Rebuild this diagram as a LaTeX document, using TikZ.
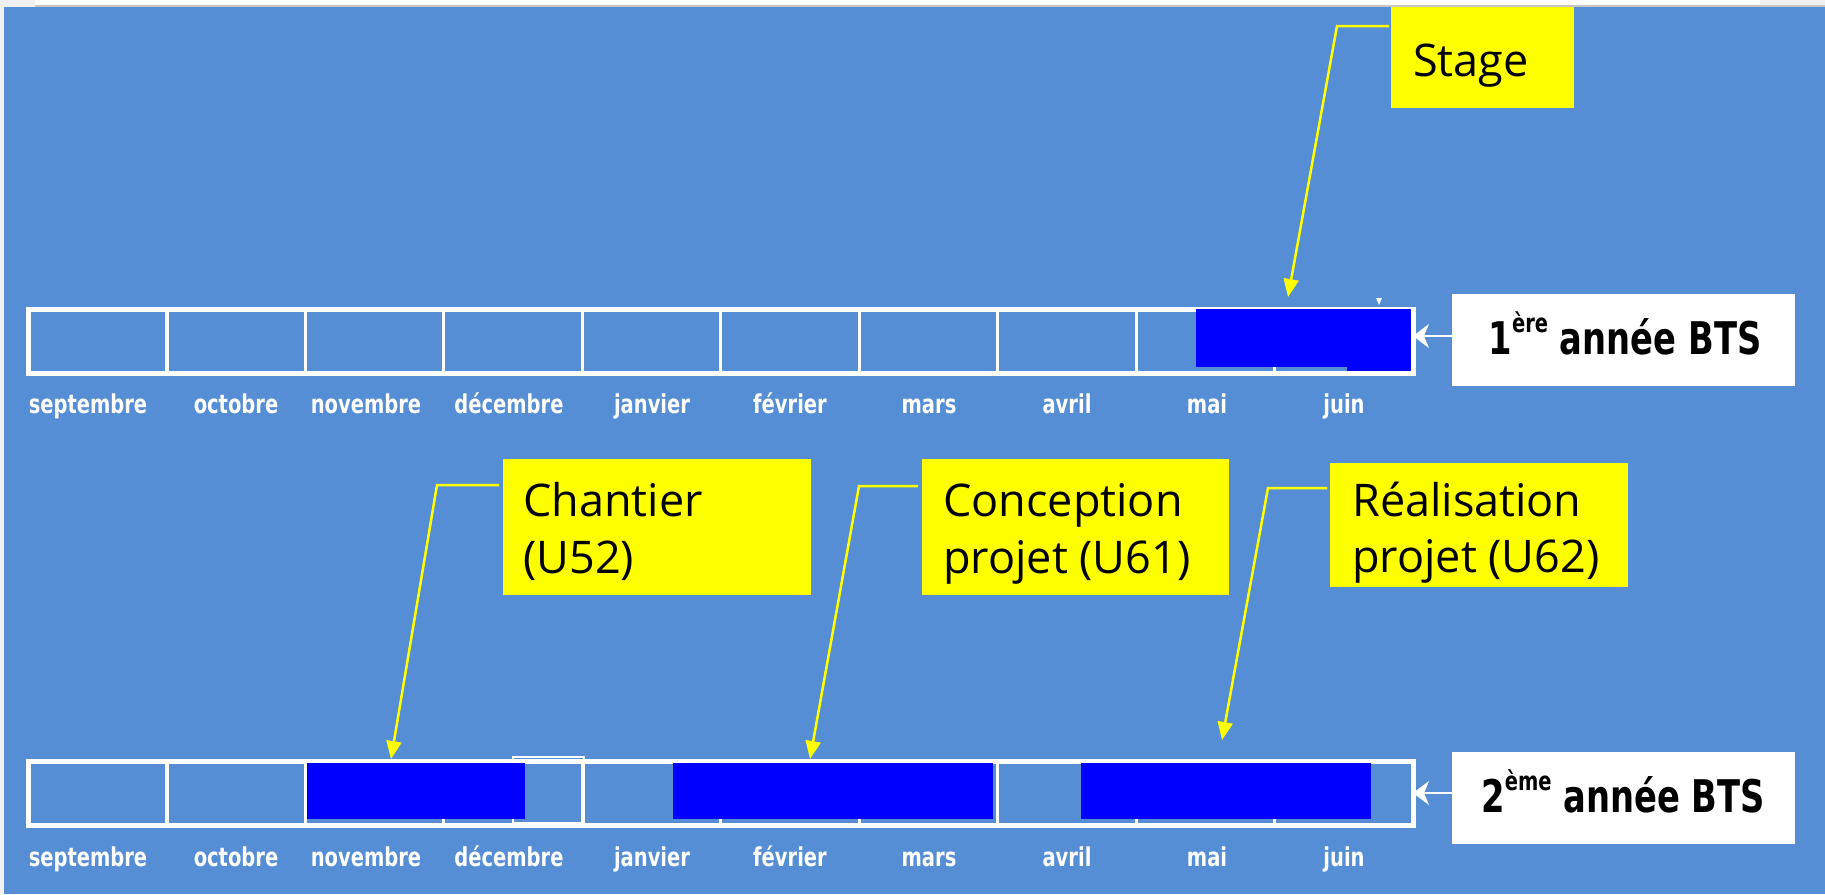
\documentclass[tikz,border=0pt]{standalone}
\usepackage{fontspec}
\usetikzlibrary{arrows.meta}
\newfontfamily\condfont[FakeStretch=0.75]{DejaVu Sans}
\newfontfamily\callfont{Open Sans}
\definecolor{bgblue}{RGB}{85,142,213}
\definecolor{blockblue}{RGB}{0,0,255}
\definecolor{callyellow}{RGB}{255,255,0}
\begin{document}
\begin{tikzpicture}[x=1pt,y=-1pt,
  monthlbl/.style={text=white, font=\condfont\bfseries\fontsize{26}{26}\selectfont, anchor=base, inner sep=0pt},
  gridouter/.style={draw=white, line width=5pt, anchor=north west, inner sep=0pt, outer sep=0pt, minimum width=1384.5pt},
  gridline/.style={draw=white, line width=3.2pt},
  blockfill/.style={fill=blockblue},
  ybox/.style={fill=callyellow, draw=none, anchor=north west, inner sep=0pt, outer sep=0pt},
  ytext/.style={font=\callfont\fontsize{45}{45}\selectfont, text=black, anchor=base west, inner sep=0pt},
  yarrow/.style={draw=callyellow, line width=2.5pt, -{Triangle[length=18pt,width=15pt]}},
  wbox/.style={fill=white, anchor=north west, inner sep=0pt, outer sep=0pt, minimum width=343pt, minimum height=92pt},
  wtext/.style={font=\condfont\bfseries\fontsize{45}{45}\selectfont, text=black, anchor=base, inner sep=0pt},
  warrow/.style={draw=white, line width=1.5pt, -{Stealth[length=16pt,width=24pt,inset=5pt]}},
]
\useasboundingbox (0,0) rectangle (1825,894);
% background
\fill[gray!12] (0,0) rectangle (1825,894);
\fill[white] (35,0) rectangle (1760,5);
\fill[gray!45] (35,5) rectangle (1825,7);
\fill[bgblue] (4,7) rectangle (1825,894);

% ---------- row 1 ----------
\node[gridouter, minimum height=64pt] (tl1) at (28.5,309) {};
\foreach \i in {1,...,9}
  \draw[gridline] ({28.5+138.45*\i},309) -- ({28.5+138.45*\i},373);
\fill[blockfill] (1196,309) rectangle (1411,367);
\fill[blockfill] (1347,366) rectangle (1411,371);
\fill[white] (1376,298) -- (1382,298) -- (1379,305) -- cycle;

\foreach \x/\m [count=\k] in {88/septembre,236/octobre,366/novembre,509/décembre,652/janvier,790/février,929/mars,1067/avril,1207/mai,1344/juin}
  \node[monthlbl] (ma\k) at (\x,413) {\m};

\node[wbox] (lab1) at (1452,294) {};
\node[wtext] (lab1t) at (1625,354) {1\raisebox{22pt}{\fontsize{26}{26}\selectfont ère} année BTS};
\coordinate (a1) at (1413,336);
\draw[warrow] (lab1.west |- a1) -- (tl1.east |- a1);

% Stage callout
\node[ybox, minimum width=183pt, minimum height=101pt] (stg) at (1391,7) {};
\node[ytext] (stgt) at (1413,76) {Stage};
\coordinate (stgk) at (1337,26);
\coordinate (stgp) at (1288,297);
\draw[yarrow] ([xshift=-2pt]stg.west |- stgk) -- (stgk) -- (stgp);

% ---------- row 2 ----------
\node[gridouter, minimum height=64.5pt] (tl2) at (28.5,761) {};
\foreach \i in {1,...,9}
  \draw[gridline] ({28.5+138.45*\i},761) -- ({28.5+138.45*\i},825.5);
\draw[white, line width=2pt] (513,757) rectangle (584,823);
\fill[blockfill] (307,763) rectangle (525,819);
\fill[blockfill] (673,763) rectangle (993,819);
\fill[blockfill] (1081,763) rectangle (1371,819);

\foreach \x/\m [count=\k] in {88/septembre,236/octobre,366/novembre,509/décembre,652/janvier,790/février,929/mars,1067/avril,1207/mai,1344/juin}
  \node[monthlbl] (mb\k) at (\x,866) {\m};

\node[wbox] (lab2) at (1452,752) {};
\node[wtext] (lab2t) at (1623,812) {2\raisebox{22pt}{\fontsize{26}{26}\selectfont ème} année BTS};
\coordinate (a2) at (1413,793);
\draw[warrow] (lab2.west |- a2) -- (tl2.east |- a2);

% Chantier
\node[ybox, minimum width=308pt, minimum height=136pt] (chb) at (503,459) {};
\node[ytext] (chb1) at (523,516) {Chantier};
\node[ytext] (chb2) at (523,573) {(U52)};
\coordinate (chk) at (437,485);
\coordinate (chp) at (391,759);
\draw[yarrow] ([xshift=-4pt]chb.west |- chk) -- (chk) -- (chp);

% Conception
\node[ybox, minimum width=307pt, minimum height=136pt] (cob) at (922,459) {};
\node[ytext] (cob1) at (943,516) {Conception};
\node[ytext] (cob2) at (943,573) {projet (U61)};
\coordinate (cok) at (859,486);
\coordinate (cop) at (810,759);
\draw[yarrow] ([xshift=-4pt]cob.west |- cok) -- (cok) -- (cop);

% Realisation
\node[ybox, minimum width=298pt, minimum height=124pt] (reb) at (1330,463) {};
\node[ytext] (reb1) at (1352,516) {Réalisation};
\node[ytext] (reb2) at (1352,572) {projet (U62)};
\coordinate (rek) at (1268,488);
\coordinate (rep) at (1222,740);
\draw[yarrow] ([xshift=-3pt]reb.west |- rek) -- (rek) -- (rep);
\end{tikzpicture}
\end{document}
